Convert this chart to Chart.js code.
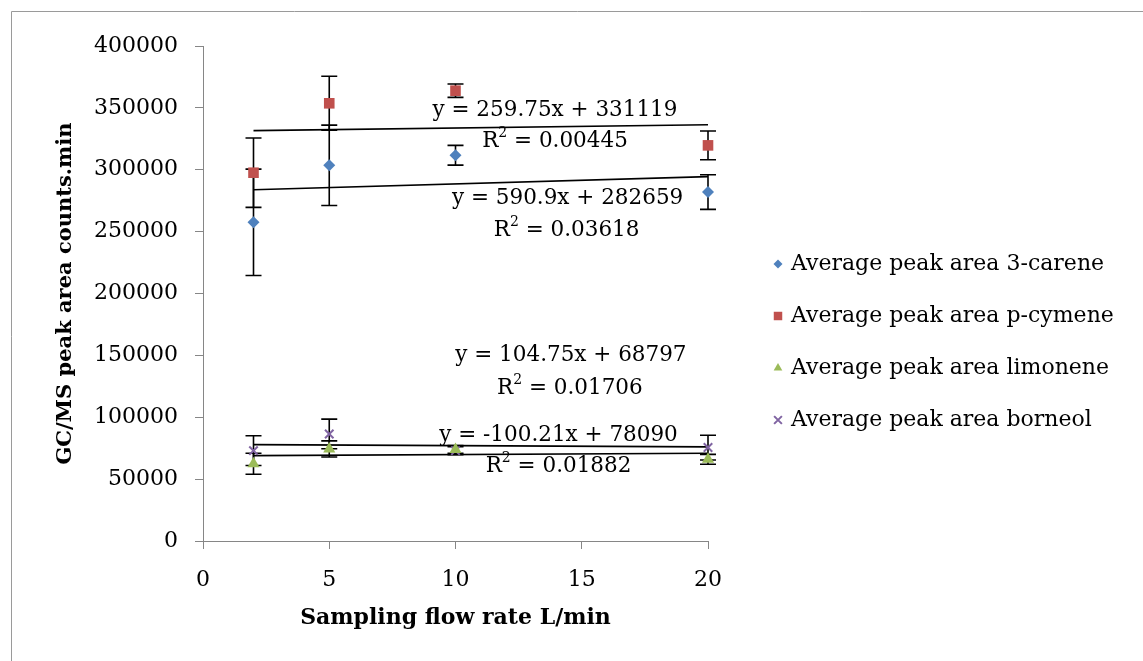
<!DOCTYPE html>
<html lang="en">
<head>
<meta charset="UTF-8">
<title>Peak area vs sampling flow rate</title>
<script src="https://cdn.jsdelivr.net/npm/chart.js"></script>
<style>
  html, body { margin: 0; padding: 0; background: #fff; }
  #wrap { width: 1143px; height: 661px; }
</style>
</head>
<body>
<div id="wrap"><canvas id="chart" width="1143" height="661"></canvas></div>
<script>
// sampling flow rate (L/min)
const flowRates = [2, 5, 10, 20];

// average peak areas and their error bars (+/-)
const careneArea = [257500, 303600, 311700, 282000];
const careneErr = [43000, 32500, 8000, 14000];
const cymeneArea = [297600, 353700, 363900, 319700];
const cymeneErr = [28000, 21800, 5400, 11600];
const limoneneArea = [62400, 74400, 74000, 66000];
const limoneneErr = [8500, 6500, 3200, 4000];
const borneolArea = [73000, 86500, 73000, 75500];
const borneolErr = [12000, 12000, 3200, 10000];

// linear trendline end values at x = 2 and x = 20
const trendX = [2, 20];
const careneTrend = [283841, 294477];
const cymeneTrend = [331639, 336314];
const limoneneTrend = [69007, 70892];
const borneolTrend = [77890, 76086];

const seriesNames = [
  'Average peak area 3-carene',
  'Average peak area p-cymene',
  'Average peak area limonene',
  'Average peak area borneol'
];
const equations = [
  ['y = 590.9x + 282659', '0.03618'],
  ['y = 259.75x + 331119', '0.00445'],
  ['y = 104.75x + 68797', '0.01706'],
  ['y = -100.21x + 78090', '0.01882']
];

const FONT = '"DejaVu Serif", "Liberation Serif", serif';
const AXIS_GREY = '#868686';

function points(ys) {
  return flowRates.map((x, i) => ({ x: x, y: ys[i] }));
}
function trend(ys) {
  return trendX.map((x, i) => ({ x: x, y: ys[i] }));
}

const markerDefs = [
  { color: '#4F81BD', style: 'rectRot', radius: 6, legendRadius: 4.5 },
  { color: '#C0504D', style: 'rect', radius: 7.5, legendRadius: 6 },
  { color: '#9BBB59', style: 'triangle', radius: 7, legendRadius: 5 },
  { color: '#8064A2', style: 'crossRot', radius: 6, legendRadius: 5.5 }
];
const areas = [careneArea, cymeneArea, limoneneArea, borneolArea];
const errs = [careneErr, cymeneErr, limoneneErr, borneolErr];
const trends = [careneTrend, cymeneTrend, limoneneTrend, borneolTrend];

const datasets = [];
areas.forEach((a, i) => {
  const m = markerDefs[i];
  datasets.push({
    type: 'scatter',
    label: seriesNames[i],
    data: points(a),
    errors: errs[i],
    clip: false,
    pointStyle: m.style,
    pointRadius: m.radius,
    pointHoverRadius: m.radius,
    backgroundColor: m.color,
    borderColor: m.color,
    pointBorderWidth: m.style === 'crossRot' ? 2 : 0,
    legendRadius: m.legendRadius
  });
});
trends.forEach((t, i) => {
  datasets.push({
    type: 'line',
    label: 'trend ' + i,
    data: trend(t),
    clip: false,
    borderColor: '#000',
    borderWidth: 1.6,
    pointRadius: 0,
    fill: false,
    isTrend: true
  });
});

// positions (in axis units) of the trendline equation boxes
const labelSpots = [
  { x: 14.44, y: 277200, x2: 14.40, y2: 251300 },
  { x: 13.94, y: 348300, x2: 13.94, y2: 322700 },
  { x: 14.57, y: 150300, x2: 14.53, y2: 123200 },
  { x: 14.08, y: 85700, x2: 14.08, y2: 60600 }
];

const errorBars = {
  id: 'errorBars',
  beforeDatasetsDraw(chart) {
    const ctx = chart.ctx;
    const xs = chart.scales.x, ys = chart.scales.y;
    ctx.save();
    ctx.strokeStyle = '#000';
    ctx.lineWidth = 1.6;
    chart.data.datasets.forEach(ds => {
      if (!ds.errors) return;
      ds.data.forEach((p, i) => {
        const px = xs.getPixelForValue(p.x);
        const top = ys.getPixelForValue(p.y + ds.errors[i]);
        const bot = ys.getPixelForValue(p.y - ds.errors[i]);
        ctx.beginPath();
        ctx.moveTo(px, top); ctx.lineTo(px, bot);
        ctx.moveTo(px - 8, top); ctx.lineTo(px + 8, top);
        ctx.moveTo(px - 8, bot); ctx.lineTo(px + 8, bot);
        ctx.stroke();
      });
    });
    ctx.restore();
  }
};

// "R² = value" with a real raised, smaller 2
function drawR2(ctx, value, cx, cy) {
  const big = '21.5px ' + FONT, small = '14px ' + FONT;
  const rest = ' = ' + value;
  ctx.font = big;
  const wR = ctx.measureText('R').width;
  const wRest = ctx.measureText(rest).width;
  ctx.font = small;
  const w2 = ctx.measureText('2').width;
  let x = cx - (wR + w2 + wRest) / 2;
  ctx.textAlign = 'left';
  ctx.font = big;
  ctx.fillText('R', x, cy);
  x += wR;
  ctx.font = small;
  ctx.fillText('2', x, cy - 8);
  x += w2;
  ctx.font = big;
  ctx.fillText(rest, x, cy);
}

const extras = {
  id: 'extras',
  afterDraw(chart) {
    const ctx = chart.ctx;
    const xs = chart.scales.x, ys = chart.scales.y;
    ctx.save();

    // outer frame (top and left only)
    ctx.strokeStyle = '#9a9a9a';
    ctx.lineWidth = 1;
    ctx.beginPath();
    ctx.moveTo(11.5, 661); ctx.lineTo(11.5, 11.5); ctx.lineTo(1143, 11.5);
    ctx.stroke();

    // trendline equations
    ctx.fillStyle = '#000';
    ctx.textBaseline = 'middle';
    labelSpots.forEach((s, i) => {
      ctx.font = '21.5px ' + FONT;
      ctx.textAlign = 'center';
      ctx.fillText(equations[i][0], xs.getPixelForValue(s.x), ys.getPixelForValue(s.y));
      drawR2(ctx, equations[i][1], xs.getPixelForValue(s.x2), ys.getPixelForValue(s.y2));
    });

    // legend
    ctx.textAlign = 'left';
    ctx.font = '22px ' + FONT;
    const lx = 778, tx = 791;
    let ly = 264;
    chart.data.datasets.forEach(ds => {
      if (ds.isTrend) return;
      ctx.fillStyle = ds.backgroundColor;
      ctx.strokeStyle = ds.borderColor;
      ctx.lineWidth = 2;
      Chart.helpers.drawPoint(ctx, {
        pointStyle: ds.pointStyle,
        radius: ds.legendRadius,
        rotation: 0,
        borderWidth: ds.pointStyle === 'crossRot' ? 2 : 0
      }, lx, ly);
      ctx.fillStyle = '#000';
      ctx.fillText(ds.label, tx, ly);
      ly += 52;
    });
    ctx.restore();
  }
};

new Chart(document.getElementById('chart'), {
  data: { datasets: datasets },
  options: {
    responsive: false,
    animation: false,
    events: [],
    layout: { padding: { top: 46, right: 435, bottom: 20, left: 0 } },
    plugins: {
      legend: { display: false },
      tooltip: { enabled: false }
    },
    scales: {
      x: {
        type: 'linear',
        min: 0,
        max: 20,
        afterFit(s) { s.height = 100; },
        ticks: {
          stepSize: 5, color: '#000', padding: 18,
          font: { family: FONT, size: 22 },
          callback: v => String(v)
        },
        grid: { drawOnChartArea: false, drawTicks: true, tickLength: 8, color: AXIS_GREY },
        border: { color: AXIS_GREY, width: 1 },
        title: {
          display: true,
          text: 'Sampling flow rate L/min',
          color: '#000',
          padding: { top: 4, bottom: 10 },
          font: { family: FONT, size: 22, weight: 'bold' }
        }
      },
      y: {
        type: 'linear',
        min: 0,
        max: 400000,
        afterFit(s) { s.width = 203; },
        ticks: {
          stepSize: 50000, color: '#000', padding: 17,
          font: { family: FONT, size: 22 },
          callback: v => String(v)
        },
        grid: { drawOnChartArea: false, drawTicks: true, tickLength: 8, color: AXIS_GREY },
        border: { color: AXIS_GREY, width: 1 },
        title: {
          display: true,
          text: 'GC/MS peak area counts.min',
          color: '#000',
          padding: { top: 53, bottom: 0 },
          font: { family: FONT, size: 21, weight: 'bold' }
        }
      }
    }
  },
  plugins: [errorBars, extras]
});
</script>
</body>
</html>
